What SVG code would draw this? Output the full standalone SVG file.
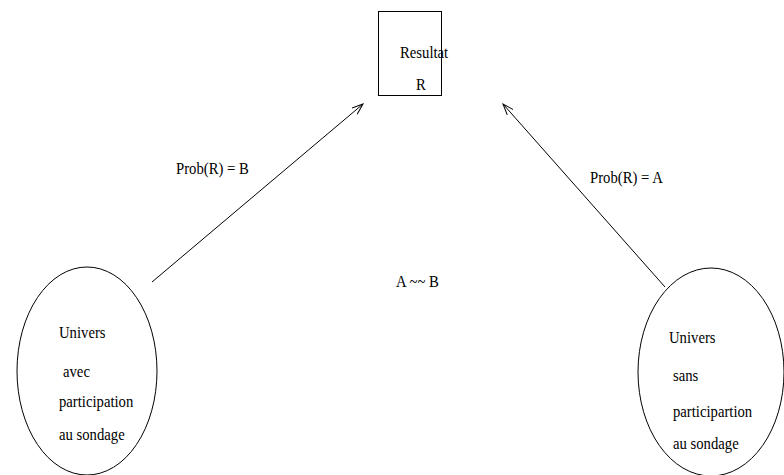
<svg xmlns="http://www.w3.org/2000/svg" width="784" height="475" viewBox="0 0 784 475">
  <style>
    .shape { fill: none; stroke: #000; stroke-width: 1; }
    .edge { fill: none; stroke: #000; stroke-width: 1; }
    text { font-family: 'Liberation Serif', 'Times New Roman', serif; font-size: 17.5px; fill: #000; }
  </style>
  <defs>
    <marker id="open-arrow" viewBox="0 0 12 10" refX="11" refY="5" markerWidth="12" markerHeight="10" markerUnits="userSpaceOnUse" orient="auto">
      <path d="M0,1 L11,5 L0,9" fill="none" stroke="#000" stroke-width="1"/>
    </marker>
  </defs>
  <rect width="784" height="475" fill="#fff"/>

  <!-- Result box -->
  <g id="resultat">
    <rect class="shape" x="378.5" y="11.5" width="63" height="84"/>
    <text transform="translate(400,58) scale(0.84,1)">Resultat</text>
    <text transform="translate(416,90) scale(0.84,1)">R</text>
  </g>

  <!-- Universe with survey participation -->
  <g id="univers-avec">
    <ellipse class="shape" cx="87" cy="371" rx="70" ry="104"/>
    <text transform="translate(59,338) scale(0.84,1)">Univers</text>
    <text transform="translate(63,377) scale(0.84,1)">avec</text>
    <text transform="translate(59,407) scale(0.84,1)">participation</text>
    <text transform="translate(59,440) scale(0.84,1)">au sondage</text>
  </g>

  <!-- Universe without survey participation -->
  <g id="univers-sans">
    <ellipse class="shape" cx="711" cy="372" rx="73" ry="104"/>
    <text transform="translate(669,343) scale(0.84,1)">Univers</text>
    <text transform="translate(673,381) scale(0.84,1)">sans</text>
    <text transform="translate(673,417) scale(0.84,1)">participartion</text>
    <text transform="translate(673,449) scale(0.84,1)">au sondage</text>
  </g>

  <!-- Connectors -->
  <g id="connectors">
    <line class="edge" x1="152" y1="282" x2="363" y2="104" marker-end="url(#open-arrow)"/>
    <line class="edge" x1="665" y1="287" x2="503" y2="104" marker-end="url(#open-arrow)"/>
    <text transform="translate(176,174) scale(0.84,1)">Prob(R) = B</text>
    <text transform="translate(590,183) scale(0.84,1)">Prob(R) = A</text>
  </g>

  <!-- Relation note -->
  <g id="relation">
    <text transform="translate(396,287) scale(0.84,1)">A ~~ B</text>
  </g>
</svg>
